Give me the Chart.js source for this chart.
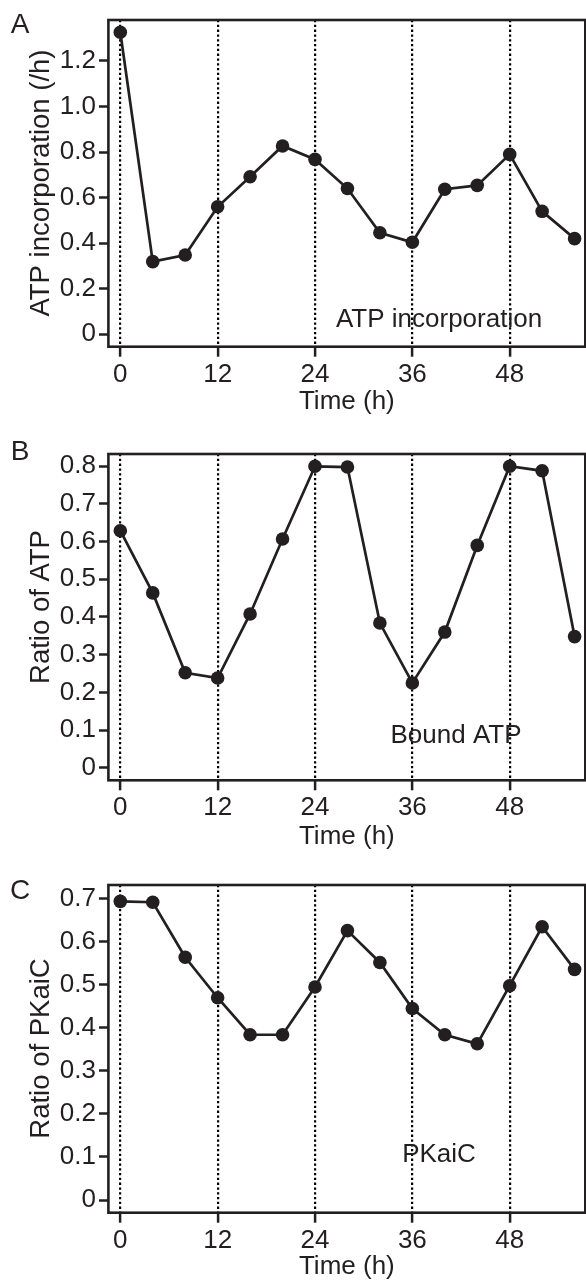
<!DOCTYPE html>
<html>
<head>
<meta charset="utf-8">
<script src="https://cdn.jsdelivr.net/npm/chart.js@4.4.1/dist/chart.umd.min.js"></script>
<style>
  html, body { margin: 0; padding: 0; background: #ffffff; width: 586px; height: 1282px; overflow: hidden; }
  canvas { position: absolute; left: 0; }
</style>
</head>
<body>
<canvas id="cA" width="586" height="420" style="top:0px;width:586px;height:420px"></canvas>
<canvas id="cB" width="586" height="434" style="top:420px;width:586px;height:434px"></canvas>
<canvas id="cC" width="586" height="428" style="top:854px;width:586px;height:428px"></canvas>
<script>
// ---- data ----
const times = [0, 4, 8, 12, 16, 20, 24, 28, 32, 36, 40, 44, 48, 52, 56];
const atpIncorporation = [1.326, 0.319, 0.348, 0.56, 0.692, 0.827, 0.768, 0.64, 0.446, 0.404, 0.637, 0.654, 0.790, 0.54, 0.42];
const boundATP = [0.629, 0.464, 0.252, 0.238, 0.408, 0.607, 0.80, 0.798, 0.384, 0.225, 0.36, 0.59, 0.80, 0.788, 0.348];
const pKaiC = [0.694, 0.692, 0.564, 0.470, 0.384, 0.384, 0.495, 0.626, 0.552, 0.445, 0.384, 0.363, 0.498, 0.635, 0.536];
const xTicks = [0, 12, 24, 36, 48];
const yTicksA = [0, 0.2, 0.4, 0.6, 0.8, 1.0, 1.2];
const yTicksB = [0, 0.1, 0.2, 0.3, 0.4, 0.5, 0.6, 0.7, 0.8];
const yTicksC = [0, 0.1, 0.2, 0.3, 0.4, 0.5, 0.6, 0.7];

// ---- style ----
const INK = '#231f20';
const FAMILY = "'Liberation Sans', Arial, Helvetica, sans-serif";
Chart.defaults.font.family = FAMILY;
Chart.defaults.color = INK;

const decor = {
  id: 'decor',
  beforeDatasetsDraw(chart, args, o) {
    const { ctx, chartArea: a } = chart;
    ctx.save();
    ctx.strokeStyle = INK;
    ctx.lineWidth = 2.6;
    ctx.strokeRect(a.left, a.top, a.right - a.left, a.bottom - a.top);
    ctx.restore();
  },
  afterDraw(chart, args, o) {
    const ctx = chart.ctx;
    ctx.save();
    ctx.fillStyle = INK;
    ctx.textAlign = 'center';
    ctx.textBaseline = 'middle';
    ctx.font = '28px ' + FAMILY;
    ctx.fillText(o.letter, o.letterX, o.letterY);
    ctx.font = '26px ' + FAMILY;
    ctx.fillText(o.note, o.noteX, o.noteY);
    ctx.font = '27.5px ' + FAMILY;
    ctx.translate(o.titleX, o.titleY);
    ctx.rotate(-Math.PI / 2);
    ctx.fillText(o.title, 0, 0);
    ctx.restore();
  }
};

function makeChart(id, values, yTicks, p) {
  const font = { size: 26, family: FAMILY };
  return new Chart(document.getElementById(id), {
    type: 'line',
    data: {
      datasets: [{
        data: times.map((t, i) => ({ x: t, y: values[i] })),
        borderColor: INK,
        borderWidth: 2.7,
        pointRadius: 6.8,
        pointHoverRadius: 6.8,
        pointBackgroundColor: INK,
        pointBorderWidth: 0,
        tension: 0,
        clip: false
      }]
    },
    options: {
      responsive: false,
      animation: false,
      devicePixelRatio: 1,
      layout: { autoPadding: false, padding: { top: p.top, right: 0.7, left: 0, bottom: 0 } },
      plugins: {
        legend: { display: false },
        tooltip: { enabled: false },
        decor: p.decor
      },
      scales: {
        x: {
          type: 'linear',
          min: -1.467, max: 57.32,
          afterBuildTicks: s => { s.ticks = xTicks.map(v => ({ value: v })); },
          afterFit: s => { s.height = p.xh; },
          ticks: { font, color: INK, padding: 2.2, maxRotation: 0, autoSkip: false, callback: v => String(v) },
          grid: { display: true, drawOnChartArea: true, drawTicks: true, color: '#000000', lineWidth: 2.2,
                  tickLength: 10, tickWidth: 2.5, tickColor: INK, tickBorderDash: [] },
          border: { display: false, dash: [2.3, 2.5] },
          title: { display: true, text: 'Time (h)', font, color: INK, padding: { top: 0, bottom: p.tpb } }
        },
        y: {
          type: 'linear',
          min: p.ymin, max: p.ymax,
          afterBuildTicks: s => { s.ticks = yTicks.map(v => ({ value: v })); },
          afterFit: s => { s.width = 108.4; },
          ticks: { font, color: INK, padding: 3, callback: v => (v === 0 ? '0' : Number(v).toFixed(1)) },
          grid: { display: true, drawOnChartArea: false, drawTicks: true, color: INK,
                  tickLength: 9.4, tickWidth: 2.5, tickColor: INK },
          border: { display: false }
        }
      }
    },
    plugins: [decor]
  });
}

makeChart('cA', atpIncorporation, yTicksA, {
  top: 20, xh: 73.3, tpb: 2.4, ymin: -0.0544, ymax: 1.38,
  decor: { letter: 'A', letterX: 20, letterY: 25, note: 'ATP incorporation', noteX: 439, noteY: 320,
           title: 'ATP incorporation (/h)', titleX: 41, titleY: 183 }
});
makeChart('cB', boundATP, yTicksB, {
  top: 34, xh: 73.7, tpb: 1.7, ymin: -0.0334, ymax: 0.8326,
  decor: { letter: 'B', letterX: 20, letterY: 32, note: 'Bound ATP', noteX: 456, noteY: 316,
           title: 'Ratio of ATP', titleX: 41, titleY: 187 }
});
makeChart('cC', pKaiC, yTicksC, {
  top: 31, xh: 69.3, tpb: 0, ymin: -0.0295, ymax: 0.732,
  decor: { letter: 'C', letterX: 20, letterY: 37, note: 'PKaiC', noteX: 439, noteY: 301,
           title: 'Ratio of PKaiC', titleX: 41, titleY: 194.5 }
});
</script>
</body>
</html>
